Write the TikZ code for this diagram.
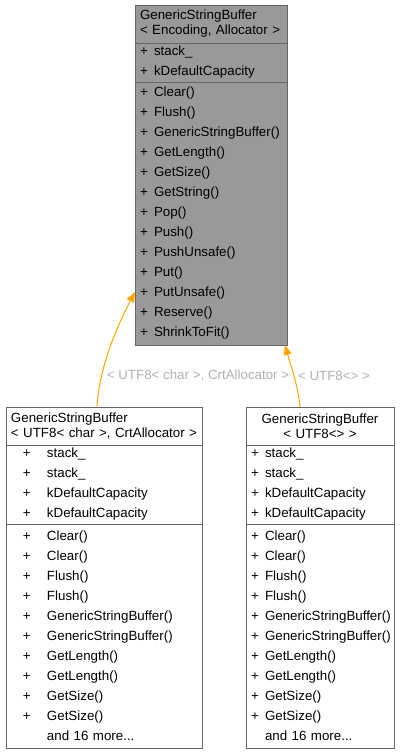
\documentclass[tikz,border=0pt]{standalone}
\usepackage{fontspec}
\setmainfont{Liberation Sans}
\usetikzlibrary{positioning,arrows.meta}

\definecolor{basefill}{HTML}{999999}
\definecolor{boxline}{HTML}{666666}
\definecolor{tplorange}{HTML}{FFA500}
\definecolor{labelgray}{HTML}{B0B0B0}

% one public member row
\newcommand{\pubmem}[1]{\makebox[10.5pt][l]{+}#1}
\newcommand{\pubcol}[1]{\makebox[27pt][l]{\hspace{9pt}+}#1}

\tikzset{
  classpart/.style={draw=boxline, line width=0.75pt, rectangle, outer sep=0pt,
    inner xsep=3.75pt, inner ysep=0pt, align=left,
    font=\fontsize{10pt}{15pt}\selectfont},
  classhead/.style={classpart, font=\fontsize{10pt}{11.25pt}\selectfont},
  tplinst/.style={draw=tplorange, line width=0.75pt, -{Triangle[length=7.5pt,width=6pt]}},
  tpllabel/.style={text=labelgray, inner sep=0pt, font=\fontsize{10pt}{12pt}\selectfont}
}

\begin{document}
\begin{tikzpicture}[x=0.75pt, y=-0.75pt]
\useasboundingbox (0,0) rectangle (401,753);

% template class
\node[classhead, fill=basefill, text width=106.5pt, minimum height=28.5pt, anchor=north west]
  (baseHead) at (135,5) {GenericStringBuffer\\< Encoding, Allocator >};
\node[classpart, fill=basefill, text width=106.5pt, minimum height=29.25pt, below=0pt of baseHead]
  (baseAttr) {\pubmem{stack\_}\\\pubmem{kDefaultCapacity}};
\node[classpart, fill=basefill, text width=106.5pt, minimum height=197.25pt, below=0pt of baseAttr]
  (baseOps) {\pubmem{Clear()}\\\pubmem{Flush()}\\\pubmem{GenericStringBuffer()}\\
    \pubmem{GetLength()}\\\pubmem{GetSize()}\\\pubmem{GetString()}\\\pubmem{Pop()}\\
    \pubmem{Push()}\\\pubmem{PushUnsafe()}\\\pubmem{Put()}\\\pubmem{PutUnsafe()}\\
    \pubmem{Reserve()}\\\pubmem{ShrinkToFit()}};

% instance with CrtAllocator
\node[classhead, text width=139.5pt, minimum height=28.5pt, anchor=north west]
  (crtHead) at (6,407) {GenericStringBuffer\\< UTF8< char >, CrtAllocator >};
\node[classpart, text width=139.5pt, minimum height=59.25pt, below=0pt of crtHead]
  (crtAttr) {\pubcol{stack\_}\\\pubcol{stack\_}\\\pubcol{kDefaultCapacity}\\\pubcol{kDefaultCapacity}};
\node[classpart, text width=139.5pt, minimum height=168pt, below=0pt of crtAttr]
  (crtOps) {\pubcol{Clear()}\\\pubcol{Clear()}\\\pubcol{Flush()}\\\pubcol{Flush()}\\
    \pubcol{GenericStringBuffer()}\\\pubcol{GenericStringBuffer()}\\
    \pubcol{GetLength()}\\\pubcol{GetLength()}\\\pubcol{GetSize()}\\\pubcol{GetSize()}\\
    \hspace{27pt}and 16 more...};

% instance with UTF8<>
\node[classhead, align=center, text width=103.5pt, minimum height=28.5pt, anchor=north west]
  (utfHead) at (246,407) {GenericStringBuffer\\< UTF8<> >};
\node[classpart, text width=103.5pt, minimum height=59.25pt, below=0pt of utfHead]
  (utfAttr) {\pubmem{stack\_}\\\pubmem{stack\_}\\\pubmem{kDefaultCapacity}\\\pubmem{kDefaultCapacity}};
\node[classpart, text width=103.5pt, minimum height=168pt, below=0pt of utfAttr]
  (utfOps) {\pubmem{Clear()}\\\pubmem{Clear()}\\\pubmem{Flush()}\\\pubmem{Flush()}\\
    \pubmem{GenericStringBuffer()}\\\pubmem{GenericStringBuffer()}\\
    \pubmem{GetLength()}\\\pubmem{GetLength()}\\\pubmem{GetSize()}\\\pubmem{GetSize()}\\
    \hspace{10.5pt}and 16 more...};

% edge ends
\coordinate (crtOut) at ([xshift=68.25pt]crtHead.north west);
\coordinate (crtIn) at ([yshift=-157.5pt]baseOps.north west);
\coordinate (utfOut) at ([xshift=40.5pt]utfHead.north west);
\coordinate (utfIn) at ([xshift=-1.5pt]baseOps.south east);

\draw[tplinst] (crtOut) .. controls +(2,-37) and +(-20,38) .. (crtIn);
\draw[tplinst] (utfOut) .. controls +(-2,-22) and +(5,18) .. (utfIn);

\node[tpllabel] (crtLabel) at (198,376) {< UTF8< char >, CrtAllocator >};
\node[tpllabel] (utfLabel) at (334,376) {< UTF8<> >};

\end{tikzpicture}
\end{document}
